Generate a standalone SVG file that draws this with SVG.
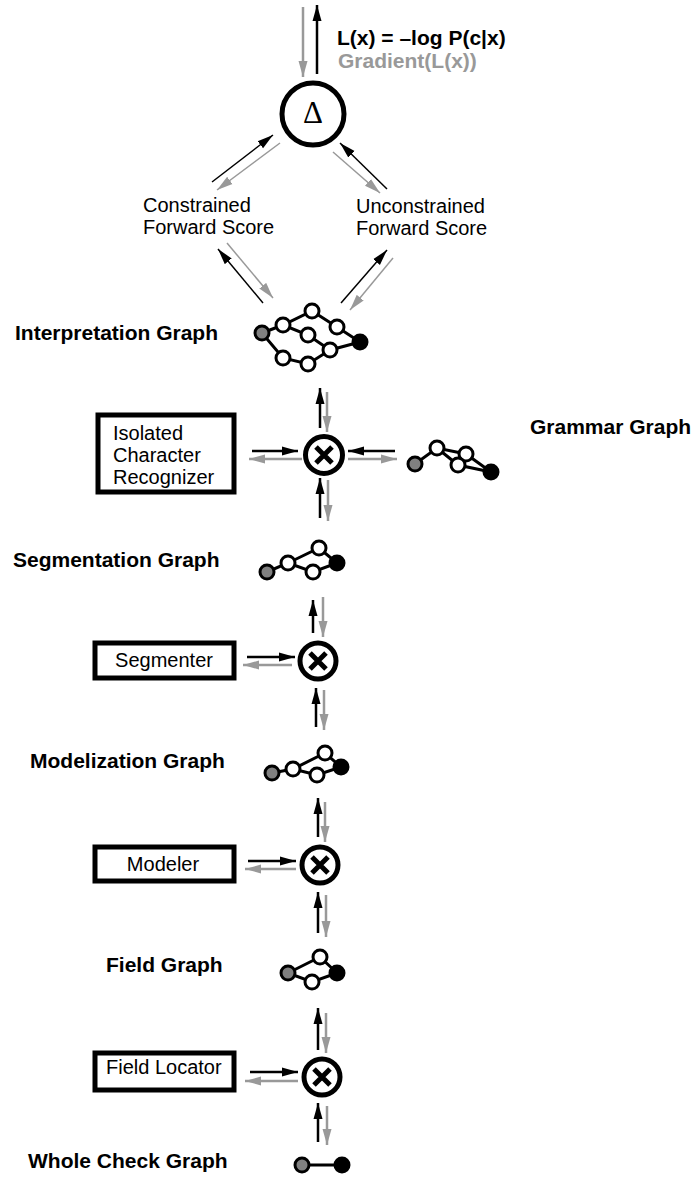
<svg xmlns="http://www.w3.org/2000/svg" width="691" height="1179" viewBox="0 0 691 1179">
<defs>
<style>
.lb{font-family:"Liberation Sans",Arial,sans-serif;font-weight:bold;font-size:21px;fill:#000}
.lr{font-family:"Liberation Sans",Arial,sans-serif;font-size:20px;fill:#000}
.box{fill:#fff;stroke:#000;stroke-width:5}
.op{fill:#fff;stroke:#000;stroke-width:5}
.x{stroke:#000;stroke-width:5;stroke-linecap:butt}
.e{stroke:#000;stroke-width:3;fill:none}
.w{fill:#fff;stroke:#000;stroke-width:3}
.g{fill:#808080;stroke:#000;stroke-width:3}
.k{fill:#000;stroke:#000;stroke-width:3}
.ab{stroke:#000;stroke-width:1.5;fill:none;marker-end:url(#mb)}
.ag{stroke:#999;stroke-width:1.5;fill:none;marker-end:url(#mg)}
.vb{stroke:#000;stroke-width:2.5;fill:none;marker-end:url(#mb)}
.vg{stroke:#999;stroke-width:2.5;fill:none;marker-end:url(#mg)}
</style>
<marker id="mb" markerUnits="userSpaceOnUse" markerWidth="16" markerHeight="11" refX="16" refY="5.5" orient="auto"><path d="M0,1 L16,5.5 L0,10 Z" fill="#000"/></marker>
<marker id="mg" markerUnits="userSpaceOnUse" markerWidth="16" markerHeight="11" refX="16" refY="5.5" orient="auto"><path d="M0,1 L16,5.5 L0,10 Z" fill="#999"/></marker>
</defs>
<rect width="691" height="1179" fill="#fff"/>

<g id="connectors">
<line class="vg" x1="303" y1="7" x2="303" y2="77"/>
<line class="vb" x1="317" y1="74" x2="317" y2="5"/>
<line class="ab" x1="212" y1="182" x2="273" y2="135"/>
<line class="ag" x1="280" y1="143" x2="217" y2="190"/>
<line class="ag" x1="333" y1="152" x2="380" y2="193"/>
<line class="ab" x1="387" y1="189" x2="340" y2="143"/>
<line class="ab" x1="263" y1="303" x2="218" y2="249"/>
<line class="ag" x1="227" y1="243" x2="273" y2="298"/>
<line class="ab" x1="341" y1="303" x2="387" y2="250"/>
<line class="ag" x1="393" y1="258" x2="350" y2="310"/>
<line class="vb" x1="320" y1="428" x2="320" y2="388"/>
<line class="vg" x1="327" y1="392" x2="327" y2="432"/>
<line class="vb" x1="252" y1="451" x2="298" y2="451"/>
<line class="vg" x1="302" y1="459" x2="249" y2="459"/>
<line class="vb" x1="395" y1="451" x2="348" y2="451"/>
<line class="vg" x1="348" y1="459" x2="397" y2="459"/>
<line class="vb" x1="320" y1="518" x2="320" y2="478"/>
<line class="vg" x1="328" y1="480" x2="328" y2="521"/>
<line class="vb" x1="313" y1="633" x2="313" y2="600"/>
<line class="vg" x1="323" y1="597" x2="323" y2="637"/>
<line class="vb" x1="247" y1="657" x2="295" y2="657"/>
<line class="vg" x1="292" y1="665" x2="243" y2="665"/>
<line class="vb" x1="316" y1="727" x2="316" y2="688"/>
<line class="vg" x1="324" y1="690" x2="324" y2="730"/>
<line class="vb" x1="318" y1="837" x2="318" y2="798"/>
<line class="vg" x1="325" y1="802" x2="325" y2="842"/>
<line class="vb" x1="248" y1="861" x2="296" y2="861"/>
<line class="vg" x1="296" y1="869" x2="245" y2="869"/>
<line class="vb" x1="318" y1="933" x2="318" y2="892"/>
<line class="vg" x1="326" y1="895" x2="326" y2="937"/>
<line class="vb" x1="318" y1="1050" x2="318" y2="1008"/>
<line class="vg" x1="326" y1="1013" x2="326" y2="1053"/>
<line class="vb" x1="250" y1="1072" x2="298" y2="1072"/>
<line class="vg" x1="298" y1="1081" x2="245" y2="1081"/>
<line class="vb" x1="318" y1="1142" x2="318" y2="1103"/>
<line class="vg" x1="327" y1="1106" x2="327" y2="1145"/>
</g>

<g id="loss-label">
<text class="lb" x="337" y="45">L(x) = –log P(c|x)</text>
<text class="lb" x="338" y="68" style="fill:#999">Gradient(L(x))</text>
</g>

<g id="delta">
<circle class="op" cx="313" cy="114" r="31"/>
<text x="313" y="123" text-anchor="middle" style="font-family:'Liberation Serif','Times New Roman',serif;font-size:31px">Δ</text>
</g>

<g id="constrained">
<text class="lr" x="143" y="212">Constrained</text>
<text class="lr" x="143" y="234">Forward Score</text>
</g>

<g id="unconstrained">
<text class="lr" x="356" y="213">Unconstrained</text>
<text class="lr" x="356" y="235">Forward Score</text>
</g>

<g id="interpretation-graph">
<text class="lb" x="15" y="340">Interpretation Graph</text>
<polyline class="e" points="262,333 283,325 312,311 337,327 360,342"/>
<polyline class="e" points="283,325 308,335 330,350 360,342"/>
<polyline class="e" points="262,333 283,358 308,364 330,350"/>
<circle class="g" cx="262" cy="333" r="7"/>
<circle class="w" cx="283" cy="325" r="7"/>
<circle class="w" cx="312" cy="311" r="7"/>
<circle class="w" cx="308" cy="335" r="7"/>
<circle class="w" cx="337" cy="327" r="7"/>
<circle class="w" cx="330" cy="350" r="7"/>
<circle class="w" cx="283" cy="358" r="7"/>
<circle class="w" cx="308" cy="364" r="7"/>
<circle class="k" cx="360" cy="342" r="7"/>
</g>

<g id="icr">
<rect class="box" x="98" y="415" width="136" height="77"/>
<text class="lr" x="113" y="440">Isolated</text>
<text class="lr" x="113" y="462">Character</text>
<text class="lr" x="113" y="484">Recognizer</text>
</g>

<g id="compose-1">
<circle class="op" cx="324" cy="455" r="18.5"/>
<path class="x" d="M316,447 L332,463 M332,447 L316,463"/>
</g>

<g id="grammar-graph">
<text class="lb" x="530" y="434">Grammar Graph</text>
<polyline class="e" points="415,464 437,448 466,454 491,472"/>
<polyline class="e" points="437,448 458,465 491,472"/>
<circle class="g" cx="415" cy="464" r="7"/>
<circle class="w" cx="437" cy="448" r="7"/>
<circle class="w" cx="466" cy="454" r="7"/>
<circle class="w" cx="458" cy="465" r="7"/>
<circle class="k" cx="491" cy="472" r="7"/>
</g>

<g id="segmentation-graph">
<text class="lb" x="13" y="567">Segmentation Graph</text>
<polyline class="e" points="267,572 288,563 319,548 337,563"/>
<polyline class="e" points="288,563 313,572 337,563"/>
<circle class="g" cx="267" cy="572" r="7"/>
<circle class="w" cx="288" cy="563" r="7"/>
<circle class="w" cx="319" cy="548" r="7"/>
<circle class="w" cx="313" cy="572" r="7"/>
<circle class="k" cx="337" cy="563" r="7"/>
</g>

<g id="segmenter">
<rect class="box" x="95" y="643" width="139" height="35"/>
<text class="lr" x="164" y="667" text-anchor="middle">Segmenter</text>
</g>

<g id="compose-2">
<circle class="op" cx="318" cy="661" r="18"/>
<path class="x" d="M310,653 L326,669 M326,653 L310,669"/>
</g>

<g id="modelization-graph">
<text class="lb" x="30" y="768">Modelization Graph</text>
<polyline class="e" points="272,773 293,769 325,753 341,767"/>
<polyline class="e" points="293,769 317,775 341,767"/>
<circle class="g" cx="272" cy="773" r="7"/>
<circle class="w" cx="293" cy="769" r="7"/>
<circle class="w" cx="325" cy="753" r="7"/>
<circle class="w" cx="317" cy="775" r="7"/>
<circle class="k" cx="341" cy="767" r="7"/>
</g>

<g id="modeler">
<rect class="box" x="95" y="847" width="139" height="34"/>
<text class="lr" x="163" y="871" text-anchor="middle">Modeler</text>
</g>

<g id="compose-3">
<circle class="op" cx="320" cy="865" r="18"/>
<path class="x" d="M312,857 L328,873 M328,857 L312,873"/>
</g>

<g id="field-graph">
<text class="lb" x="106" y="972">Field Graph</text>
<polyline class="e" points="288,973 320,957 337,973"/>
<polyline class="e" points="288,973 312,982 337,973"/>
<circle class="g" cx="288" cy="973" r="7"/>
<circle class="w" cx="320" cy="957" r="7"/>
<circle class="w" cx="312" cy="982" r="7"/>
<circle class="k" cx="337" cy="973" r="7"/>
</g>

<g id="field-locator">
<rect class="box" x="95" y="1053" width="139" height="37"/>
<text class="lr" x="106" y="1074">Field Locator</text>
</g>

<g id="compose-4">
<circle class="op" cx="322" cy="1077" r="18"/>
<path class="x" d="M314,1069 L330,1085 M330,1069 L314,1085"/>
</g>

<g id="whole-check-graph">
<text class="lb" x="28" y="1168">Whole Check Graph</text>
<line class="e" x1="302" y1="1165" x2="342" y2="1165"/>
<circle class="g" cx="302" cy="1165" r="7"/>
<circle class="k" cx="342" cy="1165" r="7"/>
</g>
</svg>
